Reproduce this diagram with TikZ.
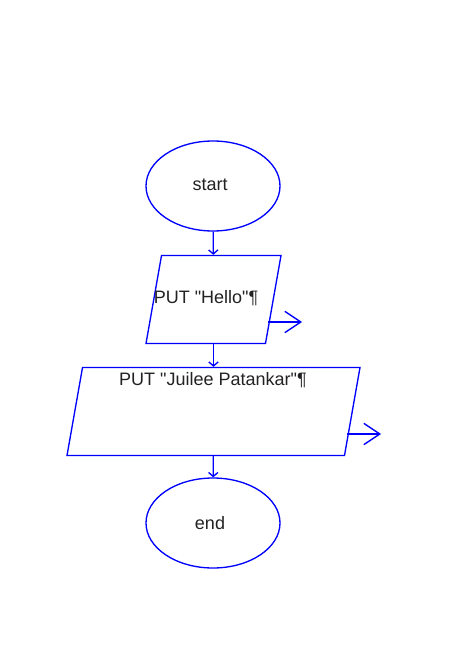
\documentclass[tikz,border=0pt]{standalone}
\usepackage{fontspec}
\setmainfont{Liberation Sans}[Ligatures=TeXOff]
\usetikzlibrary{shapes.geometric,arrows.meta,calc}
\definecolor{flowblue}{RGB}{0,0,255}
\definecolor{flowtext}{RGB}{34,34,34}
\tikzset{
  terminal/.style={draw=flowblue, line width=1pt, ellipse, minimum width=134*0.75pt, minimum height=90*0.75pt, inner sep=0pt},
  iobox/.style={draw=flowblue, line width=1pt, trapezium, trapezium left angle=80, trapezium right angle=100, trapezium stretches body=true, inner xsep=1pt, inner ysep=44*0.75pt},
  txt/.style={text=flowtext, font=\fontsize{13.5}{15}\selectfont, inner sep=0pt},
  flow/.style={draw=flowblue, line width=1pt, -{Straight Barb[length=3pt, width=7pt]}},
  sidearrow/.style={draw=flowblue, line width=1pt, -{Straight Barb[length=12pt, width=16pt]}}
}
\begin{document}
\begin{tikzpicture}[x=0.75pt, y=-0.75pt]
\useasboundingbox (0,0) rectangle (454,648);

\node[terminal] (start) at (213,186) {};
\node[iobox, minimum width=135*0.75pt] (hello) at (213.5,299.5) {};
\node[iobox, minimum width=293*0.75pt] (name) at (213.5,411.5) {};
\node[terminal] (end) at (213,523) {};

\node[txt] (starttxt) at (210,185) {start};
\node[txt] (hellotxt) at (206,298) {PUT "Hello"¶};
\node[txt] (nametxt) at (213,380) {PUT "Juilee Patankar"¶};
\node[txt] (endtxt) at (210,523) {end};

\coordinate (helloout) at (302,322);
\coordinate (nameout) at (381,434);

\path[flow] (start) -- (hello);
\path[flow] (hello) -- (name);
\path[flow] (name) -- (end);
\path[sidearrow] (268,322) -- (helloout);
\path[sidearrow] (347,434) -- (nameout);
\end{tikzpicture}
\end{document}
